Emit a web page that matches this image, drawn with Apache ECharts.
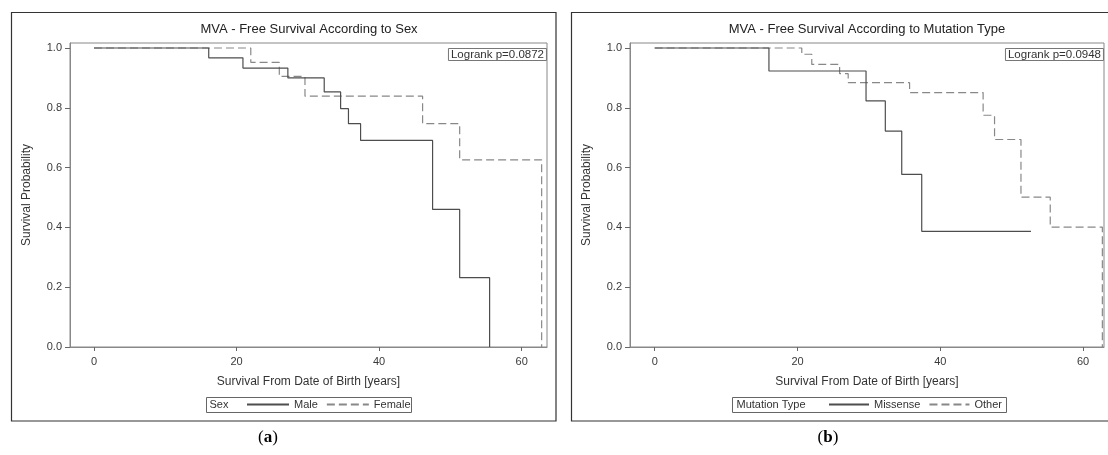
<!DOCTYPE html>
<html>
<head>
<meta charset="utf-8">
<script src="https://cdn.jsdelivr.net/npm/echarts@6/dist/echarts.min.js"></script>
<style>html,body{margin:0;padding:0;background:#fff;}#c{width:1108px;height:455px;}</style>
</head>
<body>
<div id="c"></div>
<script>
// ---- data ----
const maleT = [0, 16.1, 20.9, 27.2, 32.3, 34.6, 35.7, 37.4, 47.5, 51.3, 55.5];
const maleS = [1, 0.967, 0.933, 0.900, 0.853, 0.797, 0.747, 0.691, 0.460, 0.232, 0];
const femaleT = [0, 22.0, 26.0, 29.6, 46.1, 51.3, 62.8];
const femaleS = [1, 0.952, 0.905, 0.839, 0.747, 0.626, 0];
const missenseT = [0, 16.0, 29.6, 32.3, 34.6, 37.4, 52.7];
const missenseS = [1, 0.923, 0.823, 0.722, 0.577, 0.387, 0.387];
const otherT = [0, 20.6, 22.0, 25.9, 27.1, 35.7, 46.0, 47.6, 51.3, 55.4, 62.7];
const otherS = [1, 0.979, 0.945, 0.914, 0.884, 0.851, 0.775, 0.694, 0.501, 0.401, 0];
const yTicks = [0, 0.2, 0.4, 0.6, 0.8, 1.0];
const xTicks = [0, 20, 40, 60];
const titlesTxt = ['MVA - Free Survival According to Sex', 'MVA - Free Survival According to Mutation Type'];
const logrankTxt = ['Logrank p=0.0872', 'Logrank p=0.0948'];
const legendTitles = ['Sex', 'Mutation Type'];

const pairs = (t, s) => t.map((v, i) => [v, s[i]]);
const FONT = 'Liberation Sans, Arial, sans-serif';
const SOLID = '#4d4d4d';
const DASH = '#888';

function xAxis(idx, min, max) {
  return {
    gridIndex: idx, type: 'value', min: min, max: max,
    name: 'Survival From Date of Birth [years]', nameLocation: 'middle', nameGap: 29,
    nameTextStyle: { fontFamily: FONT, fontSize: 12, color: '#333' },
    axisLine: { show: true, onZero: false, lineStyle: { color: '#888', width: 1 } },
    axisTick: { show: true, length: 4, lineStyle: { color: '#666' }, customValues: xTicks },
    axisLabel: { fontFamily: FONT, fontSize: 11, color: '#3a3a3a', margin: 9, customValues: xTicks },
    splitLine: { show: false }
  };
}
function yAxis(idx) {
  return {
    gridIndex: idx, type: 'value', min: 0, max: 1.0167,
    name: 'Survival Probability', nameLocation: 'middle', nameGap: 37,
    nameTextStyle: { fontFamily: FONT, fontSize: 12, color: '#333' },
    axisLine: { show: true, onZero: false, lineStyle: { color: '#888', width: 1 } },
    axisTick: { show: true, length: 5, lineStyle: { color: '#666' }, customValues: yTicks },
    axisLabel: { fontFamily: FONT, fontSize: 11, color: '#3a3a3a', margin: 8,
      formatter: v => v.toFixed(1), customValues: yTicks },
    splitLine: { show: false }
  };
}
function km(name, t, s, idx, dashed) {
  return {
    name: name, type: 'line', step: 'end', xAxisIndex: idx, yAxisIndex: idx,
    data: pairs(t, s), symbol: 'none', silent: true, animation: false,
    lineStyle: { color: dashed ? DASH : SOLID, width: 1.2, type: dashed ? [8, 4] : 'solid' },
    itemStyle: { color: dashed ? DASH : SOLID }
  };
}

const chart = echarts.init(document.getElementById('c'), null, { renderer: 'canvas' });
chart.setOption({
  backgroundColor: '#fff',
  animation: false,
  title: [
    { text: titlesTxt[0], left: 309, top: 23, textAlign: 'center', padding: 0,
      textStyle: { fontFamily: FONT, fontSize: 13, fontWeight: 'normal', color: '#222' } },
    { text: titlesTxt[1], left: 867, top: 23, textAlign: 'center', padding: 0,
      textStyle: { fontFamily: FONT, fontSize: 13, fontWeight: 'normal', color: '#222' } },
    { text: logrankTxt[0], right: 561, top: 48, padding: [1, 3, 0, 3], borderColor: '#777', borderWidth: 1,
      textStyle: { fontFamily: FONT, fontSize: 11.5, fontWeight: 'normal', color: '#333' } },
    { text: logrankTxt[1], right: 4, top: 48, padding: [1, 3, 0, 3], borderColor: '#777', borderWidth: 1,
      textStyle: { fontFamily: FONT, fontSize: 11.5, fontWeight: 'normal', color: '#333' } }
  ],
  grid: [
    { left: 70, top: 43, width: 477, height: 304, show: true, borderColor: '#888', borderWidth: 1, containLabel: false },
    { left: 630, top: 43, width: 474, height: 304, show: true, borderColor: '#888', borderWidth: 1, containLabel: false }
  ],
  xAxis: [xAxis(0, -3.36, 63.55), xAxis(1, -3.46, 62.93)],
  yAxis: [yAxis(0), yAxis(1)],
  legend: [
    { data: ['Male', 'Female'], left: 246, top: 399, padding: 0, itemWidth: 42, itemHeight: 10, itemGap: 8,
      itemStyle: { opacity: 0 }, selectedMode: false, textStyle: { fontFamily: FONT, fontSize: 11, color: '#333' } },
    { data: ['Missense', 'Other'], left: 828, top: 399, padding: 0, itemWidth: 40, itemHeight: 10, itemGap: 8,
      itemStyle: { opacity: 0 }, selectedMode: false, textStyle: { fontFamily: FONT, fontSize: 11, color: '#333' } }
  ],
  series: [
    km('Female', femaleT, femaleS, 0, true),
    km('Male', maleT, maleS, 0, false),
    km('Other', otherT, otherS, 1, true),
    km('Missense', missenseT, missenseS, 1, false)
  ],
  graphic: [
    { type: 'rect', shape: { x: 11.5, y: 12.5, width: 544.5, height: 408.5 }, style: { fill: 'none', stroke: '#333', lineWidth: 1.2 }, silent: true },
    { type: 'rect', shape: { x: 571.5, y: 12.5, width: 545, height: 408.5 }, style: { fill: 'none', stroke: '#333', lineWidth: 1.2 }, silent: true },
    { type: 'rect', shape: { x: 206.5, y: 397.5, width: 205, height: 15 }, style: { fill: 'none', stroke: '#666', lineWidth: 1 }, silent: true },
    { type: 'rect', shape: { x: 732.5, y: 397.5, width: 274, height: 15 }, style: { fill: 'none', stroke: '#666', lineWidth: 1 }, silent: true },
    { type: 'text', x: 209.5, y: 405, style: { text: legendTitles[0], font: '11px ' + FONT, fill: '#333', verticalAlign: 'middle' }, silent: true },
    { type: 'text', x: 736.5, y: 405, style: { text: legendTitles[1], font: '11px ' + FONT, fill: '#333', verticalAlign: 'middle' }, silent: true },
    { type: 'text', x: 268, y: 438, style: { text: '({b|a})', rich: { b: { fontWeight: 'bold', fontFamily: 'Liberation Serif, serif', fontSize: 17, fill: '#000' } }, font: '17px Liberation Serif, serif', fill: '#000', align: 'center', verticalAlign: 'middle' }, silent: true },
    { type: 'text', x: 828, y: 438, style: { text: '({b|b})', rich: { b: { fontWeight: 'bold', fontFamily: 'Liberation Serif, serif', fontSize: 17, fill: '#000' } }, font: '17px Liberation Serif, serif', fill: '#000', align: 'center', verticalAlign: 'middle' }, silent: true }
  ]
});
</script>
</body>
</html>
